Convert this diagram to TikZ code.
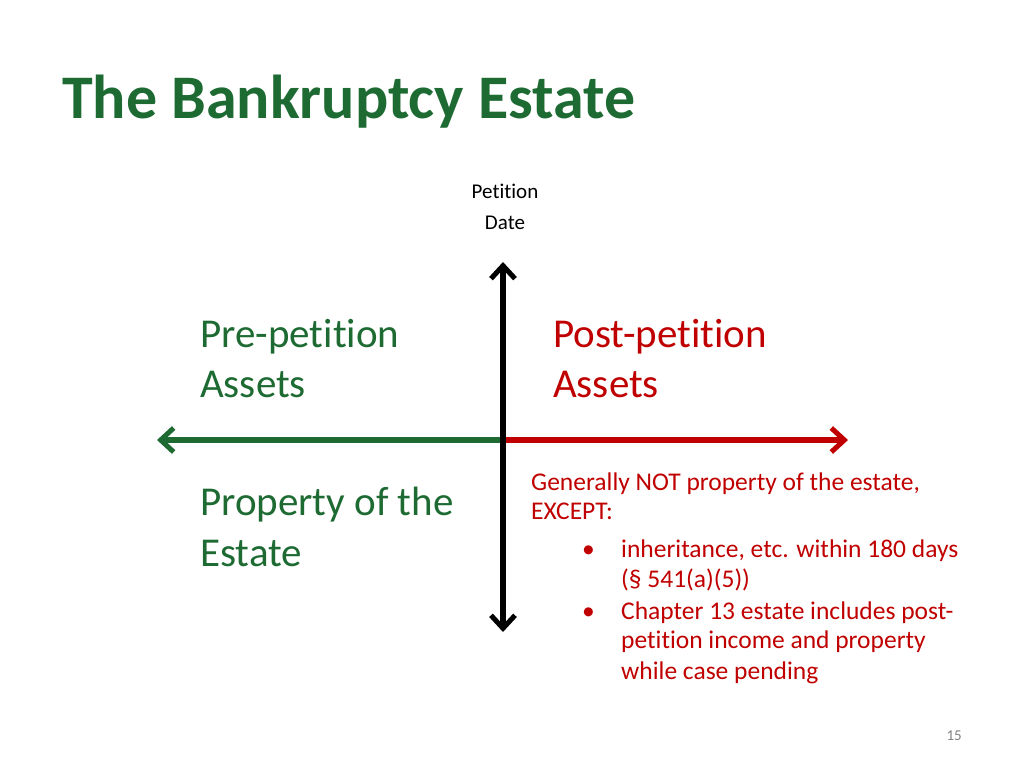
\documentclass[tikz,border=0pt]{standalone}
\usepackage{fontspec}
\setmainfont[RawFeature={-liga;-calt;-clig}]{Carlito}
\usetikzlibrary{arrows.meta}
\definecolor{dgreen}{HTML}{1D6A32}
\definecolor{dred}{HTML}{C00000}
\begin{document}
\begin{tikzpicture}[x=1pt,y=-1pt,
  lbl/.style={anchor=base west,inner sep=0pt,font=\fontsize{41}{50}\selectfont,align=left},
  rt/.style={anchor=base west,inner sep=0pt,text=dred,font=\fontsize{25.5}{30}\selectfont},
  tip/.style={-{Straight Barb[length=13pt,width=24pt,line width=5pt]},line width=5.5pt}]
\useasboundingbox (0,0) rectangle (1024,768);
\node[anchor=base west,inner sep=0pt,text=dgreen,font=\fontsize{62}{64}\selectfont\bfseries] (title) at (62,118) {The Bankruptcy Estate};
\node[align=center,inner sep=0pt,font=\fontsize{21}{31}\selectfont,anchor=center] (pd) at (505,207) {Petition\\Date};
\coordinate (o) at (503,440);
\coordinate (top) at (503,262);
\coordinate (bot) at (503,632);
\coordinate (l) at (157,440);
\coordinate (r) at (848,440);
\draw[tip,dgreen] (o) -- (l);
\draw[tip,dred] (o) -- (r);
\draw[tip,black,{Straight Barb[length=13pt,width=24pt,line width=5pt]}-{Straight Barb[length=13pt,width=24pt,line width=5pt]}] (top) -- (bot);
\node[lbl,text=dgreen] (pre) at (200,347) {Pre-petition};
\node[lbl,text=dgreen] (pre2) at (200,397) {Assets};
\node[lbl,text=dred] (post) at (553,347) {Post-petition};
\node[lbl,text=dred] (post2) at (553,397) {Assets};
\node[lbl,text=dgreen] (prop) at (200,515) {Property of the};
\node[lbl,text=dgreen] (prop2) at (200,566) {Estate};
\node[rt] (g1) at (531,490) {Generally NOT property of the estate,};
\node[rt] (g2) at (531,519) {EXCEPT:};
\node[rt] (b1) at (582,557) {•};
\node[rt] (t1) at (621,557) {inheritance, etc. within 180 days};
\node[rt] (t2) at (621,587) {(§ 541(a)(5))};
\node[rt] (b2) at (582,619) {•};
\node[rt] (t3) at (621,619) {Chapter 13 estate includes post-};
\node[rt] (t4) at (621,648) {petition income and property};
\node[rt] (t5) at (621,679) {while case pending};
\node[anchor=base east,inner sep=0pt,text=gray,font=\fontsize{15}{18}\selectfont] (pg) at (962,740) {15};
\end{tikzpicture}
\end{document}
